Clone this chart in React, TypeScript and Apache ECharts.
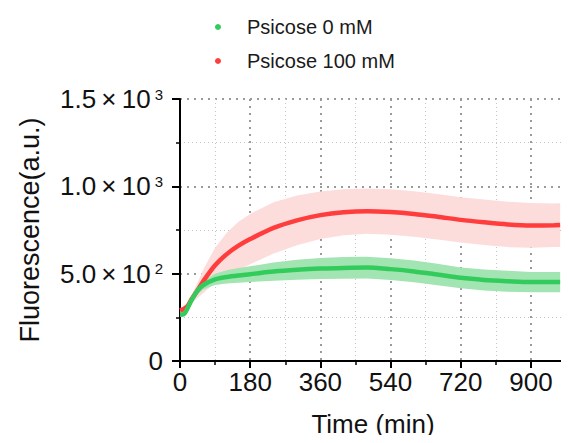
import React, { useEffect, useRef } from "react";
import * as echarts from "echarts";

const times = [0, 10, 20, 30, 45, 60, 90, 120, 150, 180, 240, 300, 360, 420, 480, 540, 600, 660, 720, 780, 840, 900, 960, 975];
const redMean = [290, 298, 315, 355, 405, 458, 548, 612, 660, 698, 762, 805, 835, 852, 858, 853, 842, 826, 808, 794, 782, 776, 777, 778];
const redSd = [12, 15, 20, 25, 45, 68, 100, 122, 137, 144, 147, 142, 136, 132, 130, 130, 130, 130, 130, 130, 130, 128, 125, 125];
const greenMean = [265, 268, 305, 350, 403, 435, 467, 481, 490, 497, 512, 522, 529, 533, 535, 526, 513, 495, 476, 464, 457, 452, 452, 452];
const greenSd = [12, 12, 15, 20, 22, 25, 32, 38, 42, 45, 52, 57, 60, 62, 62, 62, 62, 62, 60, 60, 60, 58, 58, 58];

const seriesNames = ["Psicose 0 mM", "Psicose 100 mM"];
const xTicks = [0, 180, 360, 540, 720, 900];
const yTickValues = [0, 500, 1000, 1500];
const yMantissa = ["0", "5.0\u2009×\u200910", "1.0\u2009×\u200910", "1.5\u2009×\u200910"];
const yExp = ["", "2", "3", "3"];

const RED = "#ff3d3d";
const PINK = "#fddcdc";
const GREEN = "#33cc5c";
const LGREEN = "#a3e4b3";

export default function App() {
  const ref = useRef<HTMLDivElement>(null);
  useEffect(() => {
    if (!ref.current) return;
    const chart = echarts.init(ref.current, null, { renderer: "svg" });
    const pairs = (vals: number[]) => times.map((t, i) => [t, vals[i]]);
    const font = "Liberation Sans, Arial, sans-serif";
    const band = (mean: number[], sd: number[], fill: string, name: string) => ({
      name,
      type: "custom",
      coordinateSystem: "cartesian2d",
      silent: true,
      clip: true,
      data: [[0, 0]],
      renderItem: (params: any, api: any) => {
        const upper = times.map((t, i) => api.coord([t, mean[i] + sd[i]]));
        const lower = times.map((t, i) => api.coord([t, mean[i] - sd[i]])).reverse();
        return {
          type: "polygon",
          shape: { points: upper.concat(lower) },
          style: { fill, stroke: null },
        };
      },
    });
    chart.setOption({
      animation: false,
      textStyle: { fontFamily: font },
      legend: {
        data: seriesNames,
        orient: "vertical",
        left: 210,
        top: 12,
        icon: "circle",
        itemWidth: 6,
        itemHeight: 6,
        itemGap: 14,
        textStyle: { fontSize: 20, color: "#1a1a1a", fontFamily: font, padding: [0, 0, 0, 21] },
      },
      grid: { left: 180, right: 1, top: 99, bottom: 82 },
      xAxis: {
        type: "value",
        min: 0,
        max: 990,
        interval: 180,
        name: "Time (min)",
        nameLocation: "middle",
        nameGap: 50,
        nameTextStyle: { fontSize: 26, color: "#111", fontFamily: font },
        axisLine: { lineStyle: { color: "#000", width: 2 } },
        axisTick: { show: true, length: 7, lineStyle: { color: "#000", width: 2 } },
        minorTick: { show: true, splitNumber: 2, length: 4, lineStyle: { color: "#000", width: 1.5 } },
        axisLabel: {
          fontSize: 26,
          color: "#111",
          margin: 8,
          fontFamily: font,
          formatter: (v: number) => (xTicks.includes(v) ? String(v) : ""),
        },
        splitLine: { show: true, lineStyle: { color: "#9a9a9a", type: [2, 5], width: 2 } },
        minorSplitLine: { show: true, lineStyle: { color: "#c4c4c4", type: [1, 3], width: 1 } },
      },
      yAxis: {
        type: "value",
        min: 0,
        max: 1500,
        interval: 500,
        name: "Fluorescence(a.u.)",
        nameLocation: "middle",
        nameGap: 137,
        nameTextStyle: { fontSize: 27, color: "#111", fontFamily: font },
        axisLine: { show: true, lineStyle: { color: "#000", width: 2 } },
        axisTick: { show: true, length: 8, lineStyle: { color: "#000", width: 2 } },
        minorTick: { show: true, splitNumber: 2, length: 4, lineStyle: { color: "#000", width: 1.5 } },
        axisLabel: {
          margin: 17,
          color: "#111",
          fontFamily: font,
          formatter: (v: number) => {
            const i = yTickValues.indexOf(v);
            if (i < 0) return "";
            if (!yExp[i]) return `{b|${yMantissa[i]}}`;
            return `{b|${yMantissa[i]}}{s|${yExp[i]}}`;
          },
          rich: {
            b: { fontSize: 26, color: "#111", fontFamily: font },
            s: { fontSize: 15, color: "#111", fontFamily: font, padding: [0, 0, 10, 4] },
          },
        },
        splitLine: { show: true, lineStyle: { color: "#9a9a9a", type: [2, 5], width: 2 } },
        minorSplitLine: { show: true, lineStyle: { color: "#c4c4c4", type: [1, 3], width: 1 } },
      },
      series: [
        band(redMean, redSd, PINK, "redBand"),
        band(greenMean, greenSd, LGREEN, "greenBand"),
        {
          name: seriesNames[1],
          type: "line",
          data: pairs(redMean),
          smooth: 0.3,
          showSymbol: false,
          symbol: "circle",
          color: RED,
          lineStyle: { color: RED, width: 4.5 },
          itemStyle: { color: RED },
        },
        {
          name: seriesNames[0],
          type: "line",
          data: pairs(greenMean),
          smooth: 0.3,
          showSymbol: false,
          symbol: "circle",
          color: GREEN,
          lineStyle: { color: GREEN, width: 4.5 },
          itemStyle: { color: GREEN },
        },
      ],
    });
    return () => chart.dispose();
  }, []);
  return <div ref={ref} style={{ width: 569, height: 443, margin: -8 }} />;
}
